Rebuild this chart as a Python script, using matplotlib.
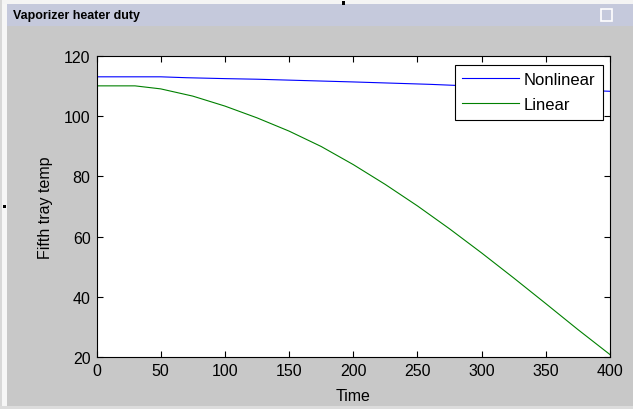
import matplotlib
matplotlib.use('Agg')
import matplotlib.pyplot as plt
from matplotlib.patches import Rectangle

# data
time_nl = [0, 50, 70, 100, 125, 150, 175, 200, 230, 260, 300, 350, 400]
nonlinear = [113.0, 113.0, 112.7, 112.4, 112.2, 111.9, 111.6, 111.3, 110.9, 110.5, 109.8, 109.0, 108.2]

time_lin = [0, 30, 50, 75, 100, 125, 150, 175, 200, 225, 250, 275, 300, 325, 350, 375, 400]
linear = [110.0, 110.0, 109.0, 106.6, 103.3, 99.4, 95.0, 89.9, 83.9, 77.3, 70.2, 62.6,
          54.6, 46.3, 37.8, 29.2, 20.9]

xticks = [0, 50, 100, 150, 200, 250, 300, 350, 400]
yticks = [20, 40, 60, 80, 100, 120]

W, H = 633, 410
plt.rcParams['font.family'] = ['Liberation Sans', 'DejaVu Sans']
fig = plt.figure(figsize=(W / 100, H / 100), dpi=100, facecolor='#c8c8c8')

def box(x, y, w, h, color):
    # rectangle given in pixels from top-left corner
    fig.add_artist(Rectangle((x / W, 1 - (y + h) / H), w / W, h / H,
                             transform=fig.transFigure, facecolor=color,
                             edgecolor='none', zorder=0))

# window chrome
box(0, 0, W, 5, '#f4f4f4')
box(0, 0, 2, H, '#d8d8d8')
box(2, 5, 5, H, '#f6f6f6')
box(7, 5, W - 7, 22, '#c5c9dc')
box(0, 407, W, 3, '#dcdcdc')
box(342, 2, 3, 4, 'black')
box(3, 206, 3, 3, 'black')
fig.add_artist(Rectangle((601 / W, 1 - 22 / H), 11 / W, 12 / H, transform=fig.transFigure,
                         facecolor='none', edgecolor='white', linewidth=1.2))
fig.text(13 / W, 1 - 16 / H, 'Vaporizer heater duty', fontsize=9, fontweight='bold',
         va='center', ha='left')

ax = fig.add_axes([96.5 / W, (H - 358.3) / H, 513.5 / W, 301.6 / H])
ax.plot(time_nl, nonlinear, color='#0000ff', linewidth=0.8, label='Nonlinear')
ax.plot(time_lin, linear, color='#008000', linewidth=0.8, label='Linear')

ax.set_xlim(0, 400)
ax.set_ylim(20, 120)
ax.set_xticks(xticks)
ax.set_yticks(yticks)
ax.tick_params(direction='in', length=4, width=0.8, top=True, right=True,
               labelsize=11.5, pad=4.3)
for s in ax.spines.values():
    s.set_linewidth(0.8)

ax.set_xlabel('Time', fontsize=11.5, labelpad=7)
ax.set_ylabel('Fifth tray temp', fontsize=11.5, labelpad=8)

leg = ax.legend(loc='upper right', bbox_to_anchor=(0.9864, 0.970), borderaxespad=0,
                fontsize=12, fancybox=False, framealpha=1, edgecolor='black',
                handlelength=3.4, handletextpad=0.3, labelspacing=0.6,
                borderpad=0.45)
leg.get_frame().set_linewidth(0.8)

fig.savefig('out.png', dpi=100, facecolor=fig.get_facecolor())
